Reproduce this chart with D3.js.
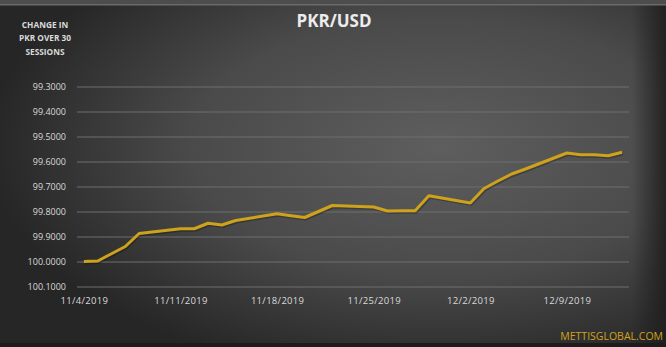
<!DOCTYPE html>
<html>
<head>
<meta charset="utf-8">
<script src="https://cdn.jsdelivr.net/npm/d3@7"></script>
<style>
  html, body { margin: 0; padding: 0; background: #2a2a2a; }
  svg { display: block; }
</style>
</head>
<body>
<div id="wrapper"></div>
<script>
const dates = [
  '11/4/2019', '11/5/2019', '11/6/2019', '11/7/2019', '11/8/2019',
  '11/11/2019', '11/12/2019', '11/13/2019', '11/14/2019', '11/15/2019',
  '11/18/2019', '11/19/2019', '11/20/2019', '11/21/2019', '11/22/2019',
  '11/25/2019', '11/26/2019', '11/27/2019', '11/28/2019', '11/29/2019',
  '12/2/2019', '12/3/2019', '12/4/2019', '12/5/2019', '12/6/2019',
  '12/9/2019', '12/10/2019', '12/11/2019', '12/12/2019', '12/13/2019'
];
const rates = [
  99.998, 99.996, 99.967, 99.938, 99.886,
  99.867, 99.867, 99.845, 99.852, 99.834,
  99.807, 99.815, 99.822, 99.798, 99.774,
  99.780, 99.796, 99.795, 99.795, 99.735,
  99.764, 99.706, 99.676, 99.648, 99.628,
  99.564, 99.571, 99.571, 99.575, 99.561
];
const yTicks = [99.3, 99.4, 99.5, 99.6, 99.7, 99.8, 99.9, 100.0, 100.1];
const xTicks = ['11/4/2019', '11/11/2019', '11/18/2019', '11/25/2019', '12/2/2019', '12/9/2019'];

const parseDate = d3.timeParse('%m/%d/%Y');
const dataset = dates.map((d, i) => ({ date: parseDate(d), rate: rates[i] }));

const xAccessor = d => d.date
const yAccessor = d => d.rate

const dimensions = {
  width: 666,
  height: 347,
  margin: { top: 87, right: 37, bottom: 60, left: 77 }
};
dimensions.boundedWidth = dimensions.width - dimensions.margin.left - dimensions.margin.right;
dimensions.boundedHeight = dimensions.height - dimensions.margin.top - dimensions.margin.bottom;

const wrapper = d3.select('#wrapper')
  .append('svg')
  .attr('width', dimensions.width)
  .attr('height', dimensions.height);

// background
const defs = wrapper.append('defs');
const bg = defs.append('radialGradient')
  .attr('id', 'bg')
  .attr('cx', '66%').attr('cy', '42%').attr('r', '68%');
bg.append('stop').attr('offset', '0%').attr('stop-color', '#5e5e5e');
bg.append('stop').attr('offset', '55%').attr('stop-color', '#4a4a4a');
bg.append('stop').attr('offset', '100%').attr('stop-color', '#262626');

const edge = defs.append('linearGradient')
  .attr('id', 'edge').attr('x1', '0').attr('x2', '1');
edge.append('stop').attr('offset', '0%').attr('stop-color', '#1e1e1e').attr('stop-opacity', 0);
edge.append('stop').attr('offset', '100%').attr('stop-color', '#1e1e1e').attr('stop-opacity', 0.9);

wrapper.append('rect')
  .attr('width', dimensions.width).attr('height', dimensions.height)
  .attr('fill', 'url(#bg)');
wrapper.append('rect')
  .attr('x', 632).attr('width', 34).attr('height', dimensions.height)
  .attr('fill', 'url(#edge)');
wrapper.append('rect')
  .attr('width', dimensions.width).attr('height', 4)
  .attr('fill', '#4d4d4d');
wrapper.append('rect')
  .attr('y', 4).attr('width', dimensions.width).attr('height', 1.5)
  .attr('fill', '#6a6a6a');
wrapper.append('rect')
  .attr('y', 343).attr('width', dimensions.width).attr('height', 4)
  .attr('fill', '#1c1c1c');

const bounds = wrapper.append('g')
  .attr('transform', `translate(${dimensions.margin.left},${dimensions.margin.top})`);

// date axis: each day owns a slot, points sit in the middle of it
const xScale = d3.scaleTime()
  .domain([d3.timeHour.offset(dataset[0].date, -12), d3.timeHour.offset(dataset[dataset.length - 1].date, 12)])
  .range([0, dimensions.boundedWidth]);

const yScale = d3.scaleLinear()
  .domain([99.3, 100.1])
  .range([0, dimensions.boundedHeight]);

// gridlines
bounds.append('g')
  .selectAll('line')
  .data(yTicks)
  .enter()
  .append('line')
  .attr('x1', 0)
  .attr('x2', dimensions.boundedWidth)
  .attr('y1', d => yScale(d))
  .attr('y2', d => yScale(d))
  .attr('stroke', '#6e6e6e')
  .attr('stroke-width', 1);

const yAxisGenerator = d3.axisLeft()
  .scale(yScale)
  .tickValues(yTicks)
  .tickSize(0)
  .tickPadding(11)
  .tickFormat(d3.format('.4f'));

const yAxis = bounds.append('g')
  .call(yAxisGenerator);
yAxis.select('.domain').remove();
yAxis.selectAll('text')
  .attr('fill', '#dadada')
  .style('font-family', '"Open Sans", sans-serif')
  .style('font-size', '9px');

const xAxisGenerator = d3.axisBottom()
  .scale(xScale)
  .tickValues(xTicks.map(parseDate))
  .tickSize(0)
  .tickPadding(10)
  .tickFormat(d3.timeFormat('%-m/%-d/%Y'));

const xAxis = bounds.append('g')
  .attr('transform', `translate(0,${dimensions.boundedHeight})`)
  .call(xAxisGenerator);
xAxis.select('.domain').remove();
xAxis.selectAll('text')
  .attr('fill', '#dadada')
  .style('font-family', '"Open Sans", sans-serif')
  .style('font-size', '9.5px')
  .style('letter-spacing', '0.3px');

// line
const lineGenerator = d3.line()
  .x(d => xScale(xAccessor(d)))
  .y(d => yScale(yAccessor(d)));

bounds.append('path')
  .datum(dataset)
  .attr('d', lineGenerator)
  .attr('fill', 'none')
  .attr('stroke', '#000')
  .attr('stroke-opacity', 0.25)
  .attr('stroke-width', 3)
  .attr('transform', 'translate(1,1.5)');

bounds.append('path')
  .datum(dataset)
  .attr('d', lineGenerator)
  .attr('fill', 'none')
  .attr('stroke', '#cfa21c')
  .attr('stroke-width', 3)
  .attr('stroke-linejoin', 'round');

// titles
wrapper.append('text')
  .attr('x', 334)
  .attr('y', 27)
  .attr('fill', '#ececec')
  .attr('text-anchor', 'middle')
  .style('font-family', '"Open Sans", sans-serif')
  .style('font-weight', 'bold')
  .style('font-size', '17px')
  .text('PKR/USD');

const sideLabel = wrapper.append('text')
  .attr('fill', '#dadada')
  .attr('text-anchor', 'middle')
  .style('font-family', '"Open Sans", sans-serif')
  .style('font-weight', 'bold')
  .style('font-size', '8.3px');
['CHANGE IN', 'PKR OVER 30', 'SESSIONS'].forEach((t, i) => {
  sideLabel.append('tspan')
    .attr('x', 45)
    .attr('y', 28 + i * 13.3)
    .text(t);
});

wrapper.append('text')
  .attr('x', 663)
  .attr('y', 340)
  .attr('fill', '#d2a21a')
  .attr('text-anchor', 'end')
  .style('font-family', '"Open Sans", sans-serif')
  .style('font-size', '10.5px')
  .text('METTISGLOBAL.COM');
</script>
</body>
</html>
